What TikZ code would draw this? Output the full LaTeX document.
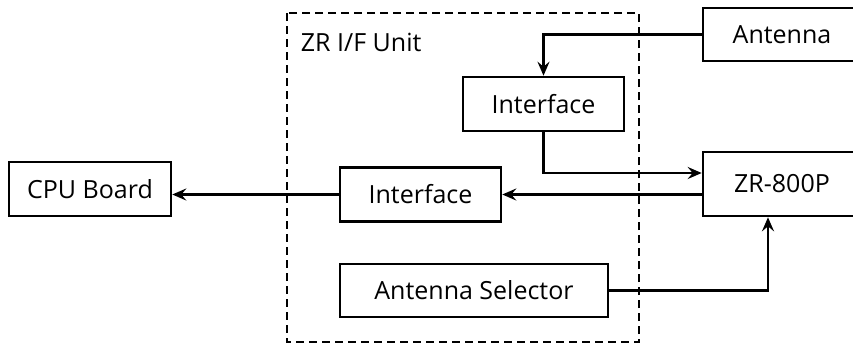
\documentclass[tikz,border=0pt]{standalone}
\usepackage{fontspec}
\setmainfont{Open Sans}
\usetikzlibrary{arrows.meta}

\begin{document}
\begin{tikzpicture}[x=0.5pt, y=-0.5pt, line width=1.3pt, >={Stealth[length=7pt, width=6pt, inset=2.5pt]},
	blk/.style={draw, minimum height=27pt, inner sep=0pt, font=\fontsize{12.5}{14}\selectfont}]
	\clip (0,0) rectangle (853,344);

	\draw [dash pattern=on 4pt off 2.5pt] (287,13) rectangle (639,342);
	\node [anchor=west, font=\fontsize{12.5}{14}\selectfont] (unit) at (293,42) {ZR I/F Unit};

	\node [blk, minimum width=81pt] (cpu) at (90,189) {CPU Board};
	\node [blk, minimum width=80.5pt] (ifB) at (420.5,194.5) {Interface};
	\node [blk, minimum width=134pt, minimum height=26.5pt] (sel) at (474,290.5) {Antenna Selector};
	\node [blk, minimum width=80.5pt] (ifA) at (543.5,104) {Interface};
	\node [blk, minimum width=79pt, minimum height=26.5pt] (ant) at (782,34.5) {Antenna};
	\node [blk, minimum width=79pt, minimum height=32pt] (zr) at (782,184) {ZR-800P};

	\draw [->] (ant.west) -| (ifA.north);
	\draw [->] (ifA.south) |- ([yshift=5.5pt]zr.west);
	\draw [->] (zr.west |- ifB.east) -- (ifB.east);
	\draw [->] (ifB.west) -- (cpu.east |- ifB.west);
	\draw [->] (sel.east) -| ([xshift=-7pt]zr.south);
\end{tikzpicture}
\end{document}
